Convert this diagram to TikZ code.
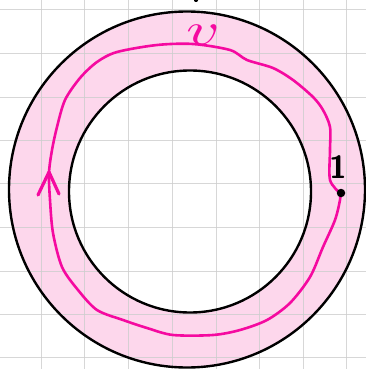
\documentclass[tikz,border=0pt]{standalone}
\usepackage{graphicx}
\definecolor{annpink}{RGB}{253,215,236}
\definecolor{loopmag}{RGB}{245,10,160}
\definecolor{gridgray}{RGB}{205,205,205}
\tikzset{
  ring/.style={draw=black,line width=2.4pt},
  loopline/.style={draw=loopmag,line width=2.6pt,line join=round,line cap=round},
  gridline/.style={draw=gridgray,line width=0.8pt,opacity=0.8}
}
\begin{document}
\begin{tikzpicture}[x=1pt,y=-1pt]
\useasboundingbox (0,0) rectangle (366,369);
\fill[white] (0,0) rectangle (366,369);
% annulus
\fill[annpink,even odd rule] (187,189.5) circle[radius=178] (190,191.5) circle[radius=121];
% grid
\foreach \gx in {41,84.5,128,172,216,259,303,346}
  \draw[gridline] (\gx,0) -- (\gx,369);
\foreach \gy in {9.5,53,97,140,183.5,227,271,314,357.5}
  \draw[gridline] (0,\gy) -- (366,\gy);
% circles
\draw[ring] (187,189.5) circle[radius=178];
\draw[ring] (190,191.5) circle[radius=121];
% small mark at top edge
\fill[black] (196,0.5) ellipse[x radius=2,y radius=1.5];
% loop
\draw[loopline] plot[smooth,tension=0.5] coordinates {
 (340,193) (330,180) (330,150) (330,127) (323,110) (313,97) (293,80) (273,68)
 (247,60) (230,50) (193,44) (157,45) (117,52) (97,62) (80,78) (65,100)
 (57,127) (52,150) (49,173) (50,200) (53,233) (62,267) (78,290) (97,310)
 (123,320) (147,328) (173,335) (213,335) (240,330) (267,320) (290,303)
 (310,277) (323,247) (335,220) (340,200) (340,193)};
% arrow chevron
\coordinate (tip) at (49,172);
\coordinate (la) at (38,195);
\coordinate (ra) at (59,194);
\draw[loopline,line width=3.2pt] (la) -- (tip) -- (ra);
% base point
\node[circle,fill=black,inner sep=0pt,minimum size=8.5pt] (p) at (341,193) {};
\node[inner sep=0pt] (one) at (338,167) {\scalebox{3.2}{\sffamily\bfseries 1}};
\node[inner sep=0pt,text=loopmag] (v) at (203,35) {\scalebox{6.5}[4.5]{$v$}};
\end{tikzpicture}
\end{document}
